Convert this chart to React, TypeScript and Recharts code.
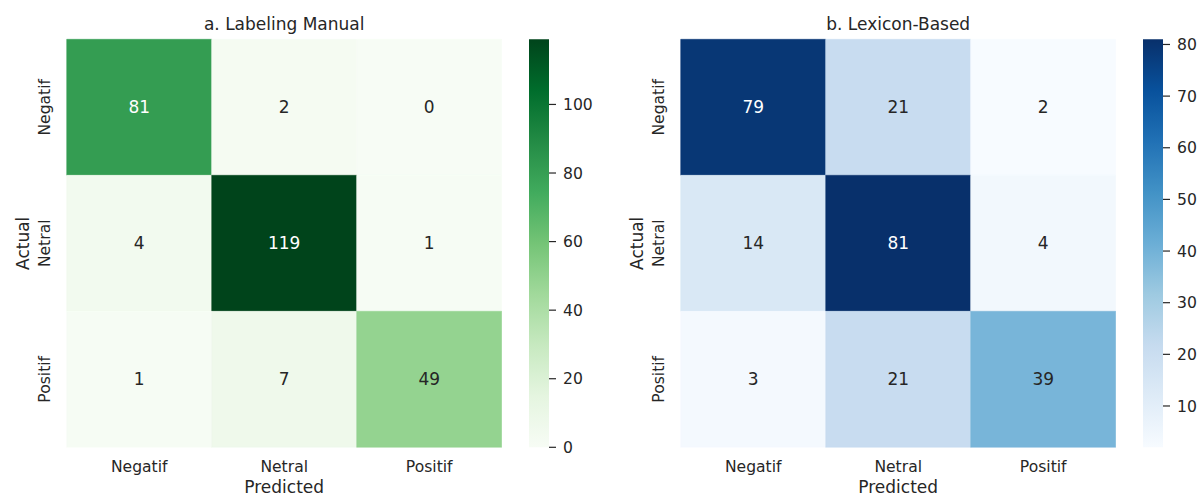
import React from "react";
import {
  BarChart,
  Bar,
  Cell,
  LabelList,
  XAxis,
  YAxis,
} from "recharts";

// ─── Data ────────────────────────────────────────────────────────────────
const classes = ["Negatif", "Netral", "Positif"];

// rows = actual, columns = predicted
const manualMatrix = [
  [81, 2, 0],
  [4, 119, 1],
  [1, 7, 49],
];
const lexiconMatrix = [
  [79, 21, 2],
  [14, 81, 4],
  [3, 21, 39],
];

const manualTicks = [0, 20, 40, 60, 80, 100];
const lexiconTicks = [10, 20, 30, 40, 50, 60, 70, 80];
const rowTicks = [0.5, 1.5, 2.5];

// ColorBrewer stops used by matplotlib's Greens / Blues
const GREENS = ["#f7fcf5", "#e5f5e0", "#c7e9c0", "#a1d99b", "#74c476", "#41ab5d", "#238b45", "#006d2c", "#00441b"];
const BLUES = ["#f7fbff", "#deebf7", "#c6dbef", "#9ecae1", "#6baed6", "#4292c6", "#2171b5", "#08519c", "#08306b"];

const TEXT = "#262626";
const FONT = "'DejaVu Sans', sans-serif";

// ─── Colour helpers ──────────────────────────────────────────────────────
function hexToRgb(h: string): number[] {
  return [1, 3, 5].map((i) => parseInt(h.slice(i, i + 2), 16));
}

function cmap(stops: string[], t: number): string {
  const c = Math.max(0, Math.min(1, t)) * (stops.length - 1);
  const i = Math.min(Math.floor(c), stops.length - 2);
  const f = c - i;
  const a = hexToRgb(stops[i]);
  const b = hexToRgb(stops[i + 1]);
  const rgb = a.map((v, k) => Math.round(v + (b[k] - v) * f));
  return `rgb(${rgb[0]},${rgb[1]},${rgb[2]})`;
}

function luminance(rgbStr: string): number {
  const [r, g, b] = rgbStr.match(/\d+/g)!.map((v) => {
    const c = Number(v) / 255;
    return c <= 0.03928 ? c / 12.92 : Math.pow((c + 0.055) / 1.055, 2.4);
  });
  return 0.2126 * r + 0.7152 * g + 0.0722 * b;
}

// ─── Axis ticks ──────────────────────────────────────────────────────────
function XTick(props: any) {
  const { x, y, payload } = props;
  return (
    <text x={x} y={y + 20} textAnchor="middle" dominantBaseline="central" fontSize={15.6} fill={TEXT}>
      {payload.value}
    </text>
  );
}

function YTick(props: any) {
  const { x, y, payload } = props;
  const tx = x - 21.5;
  return (
    <text
      x={tx}
      y={y}
      transform={`rotate(-90, ${tx}, ${y})`}
      textAnchor="middle"
      dominantBaseline="central"
      fontSize={15.6}
      fill={TEXT}
    >
      {classes[Math.floor(payload.value)]}
    </text>
  );
}

// ─── Heatmap ─────────────────────────────────────────────────────────────
interface HeatProps {
  title: string;
  matrix: number[][];
  stops: string[];
  vmin: number;
  vmax: number;
  left: number;
}

const PLOT_TOP = 39.3;
const PLOT_BOTTOM = 447.3;
const Y_AXIS_W = 66.7;
const PLOT_W = 435;

function Heatmap({ title, matrix, stops, vmin, vmax, left }: HeatProps) {
  // one entry per predicted class, each row stacked as a unit-height block
  const data = classes.map((c) => ({ pred: c }));
  const colorOf = (v: number) => cmap(stops, (v - vmin) / (vmax - vmin));

  return (
    <div style={{ position: "absolute", left, top: 0 }}>
      <div
        style={{
          position: "absolute",
          left: Y_AXIS_W,
          width: PLOT_W,
          top: 16,
          textAlign: "center",
          fontSize: 17,
          lineHeight: "17px",
          color: TEXT,
          whiteSpace: "nowrap",
        }}
      >
        {title}
      </div>
      <BarChart
        width={Y_AXIS_W + PLOT_W}
        height={496}
        data={data}
        margin={{ top: PLOT_TOP, right: 0, bottom: 0, left: 0 }}
        barCategoryGap={0}
        barGap={0}
      >
        <XAxis
          dataKey="pred"
          height={496 - PLOT_BOTTOM}
          axisLine={false}
          tickLine={false}
          tickSize={0}
          tickMargin={0}
          tick={<XTick />}
          interval={0}
          label={{
            content: (p: any) => {
              const vb = p.viewBox;
              return (
                <text x={vb.x + vb.width / 2} y={vb.y + 39.5} textAnchor="middle" dominantBaseline="central" fontSize={17} fill={TEXT}>
                  Predicted
                </text>
              );
            },
          }}
        />
        <YAxis
          type="number"
          domain={[0, 3]}
          reversed
          ticks={rowTicks}
          width={Y_AXIS_W}
          axisLine={false}
          tickLine={false}
          tickSize={0}
          tickMargin={0}
          tick={<YTick />}
          interval={0}
          label={{
            content: (p: any) => {
              const vb = p.viewBox;
              const lx = vb.x + vb.width - 43.5;
              const ly = vb.y + vb.height / 2;
              return (
                <text x={lx} y={ly} transform={`rotate(-90, ${lx}, ${ly})`} textAnchor="middle" dominantBaseline="central" fontSize={17} fill={TEXT}>
                  Actual
                </text>
              );
            },
          }}
        />
        {matrix.map((row, i) => (
          <Bar key={i} dataKey={() => 1} stackId="cm" isAnimationActive={false}>
            {row.map((v, j) => (
              <Cell key={j} fill={colorOf(v)} stroke={colorOf(v)} strokeWidth={0.5} />
            ))}
            <LabelList
              dataKey={() => 1}
              content={(p: any) => {
                const { x, y, width, height, index } = p;
                const v = row[index];
                const fill = luminance(colorOf(v)) > 0.408 ? TEXT : "#ffffff";
                return (
                  <text
                    x={x + width / 2}
                    y={y + height / 2}
                    textAnchor="middle"
                    dominantBaseline="central"
                    fontSize={17}
                    fill={fill}
                  >
                    {v}
                  </text>
                );
              }}
            />
          </Bar>
        ))}
      </BarChart>
    </div>
  );
}

// ─── Colorbar ────────────────────────────────────────────────────────────
interface BarProps {
  id: string;
  stops: string[];
  vmin: number;
  vmax: number;
  ticks: number[];
  left: number;
}

function Colorbar({ id, stops, vmin, vmax, ticks, left }: BarProps) {
  const data = [{ k: "cb", range: [vmin, vmax] }];
  return (
    <div style={{ position: "absolute", left, top: 0 }}>
      <BarChart
        width={20 + 60}
        height={496}
        data={data}
        margin={{ top: PLOT_TOP, right: 0, bottom: 496 - PLOT_BOTTOM, left: 0 }}
        barCategoryGap={0}
      >
        <defs>
          <linearGradient id={id} x1="0" y1="1" x2="0" y2="0">
            {stops.map((c, i) => (
              <stop key={i} offset={i / (stops.length - 1)} stopColor={c} />
            ))}
          </linearGradient>
        </defs>
        <XAxis dataKey="k" hide />
        <YAxis
          orientation="right"
          type="number"
          domain={[vmin, vmax]}
          ticks={ticks}
          width={60}
          axisLine={false}
          tickLine={{ stroke: TEXT, strokeWidth: 1.2 }}
          tickSize={7}
          tickMargin={7}
          tick={{ fontSize: 15.6, fill: TEXT }}
          interval={0}
        />
        <Bar dataKey="range" fill={`url(#${id})`} isAnimationActive={false} />
      </BarChart>
    </div>
  );
}

export default function App() {
  return (
    <div
      style={{
        position: "absolute",
        left: 0,
        top: 0,
        width: 1203,
        height: 496,
        background: "#ffffff",
        fontFamily: FONT,
        overflow: "hidden",
      }}
    >
      <Heatmap title="a. Labeling Manual" matrix={manualMatrix} stops={GREENS} vmin={0} vmax={119} left={0} />
      <Colorbar id="gradGreen" stops={GREENS} vmin={0} vmax={119} ticks={manualTicks} left={529} />
      <Heatmap title="b. Lexicon-Based" matrix={lexiconMatrix} stops={BLUES} vmin={2} vmax={81} left={614} />
      <Colorbar id="gradBlue" stops={BLUES} vmin={2} vmax={81} ticks={lexiconTicks} left={1143.3} />
    </div>
  );
}
